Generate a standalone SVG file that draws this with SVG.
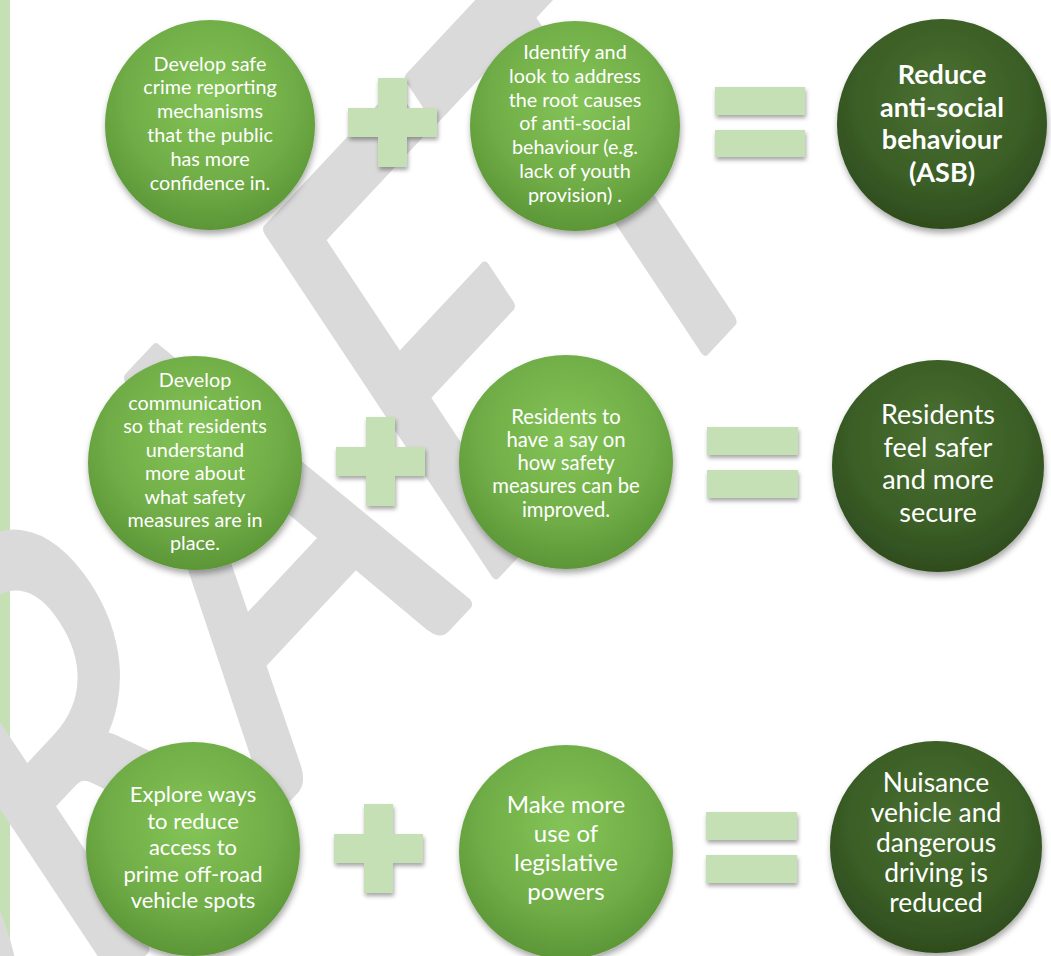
<svg xmlns="http://www.w3.org/2000/svg" width="1051" height="956" viewBox="0 0 1051 956">
<defs>
<radialGradient id="gl" cx="50%" cy="38%" r="62%">
<stop offset="0" stop-color="#84c457"/>
<stop offset="0.65" stop-color="#70ad47"/>
<stop offset="1" stop-color="#5c9637"/>
</radialGradient>
<radialGradient id="gd" cx="50%" cy="38%" r="62%">
<stop offset="0" stop-color="#4b7132"/>
<stop offset="0.65" stop-color="#3b5e26"/>
<stop offset="1" stop-color="#2f4c1e"/>
</radialGradient>
<filter id="sh" x="-20%" y="-20%" width="140%" height="140%">
<feDropShadow dx="1" dy="4" stdDeviation="3" flood-color="#000" flood-opacity="0.35"/>
</filter>
<filter id="shs" x="-20%" y="-20%" width="140%" height="150%">
<feDropShadow dx="1" dy="3" stdDeviation="2" flood-color="#000" flood-opacity="0.35"/>
</filter>
</defs>
<style>
.wm{font-family:Lato,"Liberation Sans",sans-serif;font-size:100px;fill:#dadada;stroke:#dadada;stroke-width:2;stroke-linejoin:round}
.op{fill:#c5e0b4;filter:url(#shs)}
.cl{fill:url(#gl);filter:url(#sh)}
.cd{fill:url(#gd);filter:url(#sh)}
.t{font-family:Lato,"Liberation Sans",sans-serif;fill:#ffffff;text-anchor:middle}
.s20{font-size:19.8px}
.b{font-weight:bold}
</style>
<rect x="0" y="0" width="1051" height="956" fill="#ffffff"/>
<rect x="0" y="0" width="10" height="956" fill="#c5e0b4"/>
<text class="wm" transform="matrix(2.90,-3.10,3.18,4.79,803.8,243.8)" text-anchor="end">DRAFT</text>

<g id="connectors">
<g id="plus1"><path class="op" d="M378,78h29v30h30v29h-30v30h-29v-30h-30v-29h30z"/></g>
<g id="equals1"><rect class="op" x="715" y="87" width="90" height="28"/><rect class="op" x="715" y="130" width="90" height="27"/></g>
<g id="plus2"><path class="op" d="M366,417h29v30h30v29h-30v30h-29v-30h-30v-29h30z"/></g>
<g id="equals2"><rect class="op" x="707" y="427" width="91" height="28"/><rect class="op" x="707" y="470" width="91" height="28"/></g>
<g id="plus3"><path class="op" d="M364,804h29v30h30v29h-30v30h-29v-30h-30v-29h30z"/></g>
<g id="equals3"><rect class="op" x="706" y="812" width="91" height="28"/><rect class="op" x="706" y="855" width="91" height="28"/></g>
</g>

<g id="a1"><circle class="cl" cx="210" cy="125" r="105"/>
<text class="t s20"><tspan x="210" y="70.5">Develop safe</tspan><tspan x="210" y="94.3">crime reporting</tspan><tspan x="210" y="118.1">mechanisms</tspan><tspan x="210" y="141.9">that the public</tspan><tspan x="210" y="165.7">has more</tspan><tspan x="210" y="189.5">confidence in.</tspan></text></g>

<g id="a2"><circle class="cl" cx="575" cy="126" r="105"/>
<text class="t s20"><tspan x="575" y="59">Identify and</tspan><tspan x="575" y="82.8">look to address</tspan><tspan x="575" y="106.6">the root causes</tspan><tspan x="575" y="130.4">of anti-social</tspan><tspan x="575" y="154.2">behaviour (e.g.</tspan><tspan x="575" y="178">lack of youth</tspan><tspan x="575" y="201.8">provision) .</tspan></text></g>

<g id="a3"><circle class="cd" cx="942" cy="124" r="105"/>
<text class="t b" style="font-size:27px"><tspan x="942" y="84">Reduce</tspan><tspan x="942" y="116.7">anti-social</tspan><tspan x="942" y="149.4">behaviour</tspan><tspan x="942" y="182.1">(ASB)</tspan></text></g>

<g id="b1"><circle class="cl" cx="195" cy="463" r="107"/>
<text class="t s20"><tspan x="195" y="386.5">Develop</tspan><tspan x="195" y="409.9">communication</tspan><tspan x="195" y="433.3">so that residents</tspan><tspan x="195" y="456.7">understand</tspan><tspan x="195" y="480.1">more about</tspan><tspan x="195" y="503.5">what safety</tspan><tspan x="195" y="526.9">measures are in</tspan><tspan x="195" y="550.3">place.</tspan></text></g>

<g id="b2"><circle class="cl" cx="566" cy="462" r="107"/>
<text class="t" style="font-size:20.3px"><tspan x="566" y="423.5">Residents to</tspan><tspan x="566" y="446.8">have a say on</tspan><tspan x="566" y="470.1">how safety</tspan><tspan x="566" y="493.4">measures can be</tspan><tspan x="566" y="516.7">improved.</tspan></text></g>

<g id="b3"><circle class="cd" cx="938" cy="466" r="106"/>
<text class="t" style="font-size:27px"><tspan x="938" y="424">Residents</tspan><tspan x="938" y="456.7">feel safer</tspan><tspan x="938" y="489.4">and more</tspan><tspan x="938" y="522.1">secure</tspan></text></g>

<g id="c1"><circle class="cl" cx="193" cy="849" r="107"/>
<text class="t" style="font-size:22px"><tspan x="193" y="802">Explore ways</tspan><tspan x="193" y="828.5">to reduce</tspan><tspan x="193" y="855">access to</tspan><tspan x="193" y="881.5">prime off-road</tspan><tspan x="193" y="908">vehicle spots</tspan></text></g>

<g id="c2"><circle class="cl" cx="566" cy="852" r="107"/>
<text class="t" style="font-size:24px"><tspan x="566" y="813">Make more</tspan><tspan x="566" y="842">use of</tspan><tspan x="566" y="871">legislative</tspan><tspan x="566" y="900">powers</tspan></text></g>

<g id="c3"><circle class="cd" cx="936" cy="847" r="106"/>
<text class="t" style="font-size:26.4px"><tspan x="936" y="792">Nuisance</tspan><tspan x="936" y="822">vehicle and</tspan><tspan x="936" y="852">dangerous</tspan><tspan x="936" y="882">driving is</tspan><tspan x="936" y="912">reduced</tspan></text></g>
</svg>
